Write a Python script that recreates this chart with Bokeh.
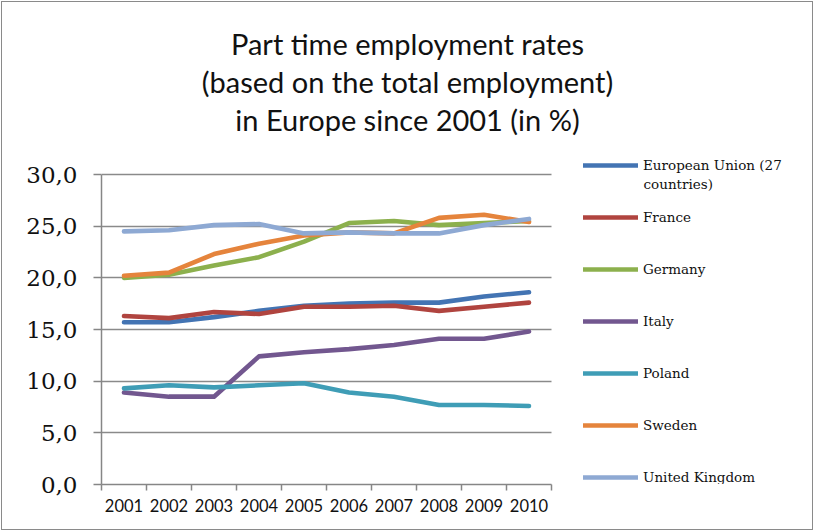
from bokeh.plotting import figure
from bokeh.models import FixedTicker, Legend, LegendItem, Range1d, Label
from bokeh.embed import file_html
from bokeh.resources import INLINE

years = [2001, 2002, 2003, 2004, 2005, 2006, 2007, 2008, 2009, 2010]
eu = [15.7, 15.7, 16.2, 16.8, 17.3, 17.5, 17.6, 17.6, 18.2, 18.6]
france = [16.3, 16.1, 16.7, 16.5, 17.2, 17.2, 17.3, 16.8, 17.2, 17.6]
germany = [20.0, 20.3, 21.2, 22.0, 23.5, 25.3, 25.5, 25.1, 25.3, 25.5]
italy = [8.9, 8.5, 8.5, 12.4, 12.8, 13.1, 13.5, 14.1, 14.1, 14.8]
poland = [9.3, 9.6, 9.4, 9.6, 9.8, 8.9, 8.5, 7.7, 7.7, 7.6]
sweden = [20.2, 20.5, 22.3, 23.3, 24.1, 24.4, 24.3, 25.8, 26.1, 25.4]
uk = [24.5, 24.6, 25.1, 25.2, 24.3, 24.4, 24.3, 24.3, 25.1, 25.7]

series_names = ["European Union (27", "France", "Germany", "Italy", "Poland", "Sweden", "United Kingdom"]
name_continuation = "countries)"
series_values = [eu, france, germany, italy, poland, sweden, uk]
series_colors = ["#4374B3", "#B0443F", "#8CB04D", "#72578F", "#3F9DB6", "#E5843C", "#8EA9D3"]

y_ticks = [0, 5, 10, 15, 20, 25, 30]
y_tick_labels = ["0,0", "5,0", "10,0", "15,0", "20,0", "25,0", "30,0"]
title_lines = ["Part time employment rates", "(based on the total employment)", "in Europe since 2001 (in %)"]

# ---- layout constants (pixels) ----
W, H = 814, 531
FL, FB = 101, 484            # frame left / bottom (frame extends to top and right edge)
PX_YEAR = 45.0               # pixels per category
PX_UNIT = (484 - 174) / 30.0  # pixels per percent
x0 = years[0] - 0.5
x1 = x0 + (W - FL) / PX_YEAR
y1 = FB / PX_UNIT

p = figure(width=W, height=H, output_backend="svg", toolbar_location=None,
           x_range=Range1d(x0, x1), y_range=Range1d(0, y1),
           min_border=0, min_border_left=FL, min_border_right=0, min_border_top=0,
           min_border_bottom=H - FB)
p.title.visible = False
p.title.text_font_size = "0px"
p.title.standoff = 0
p.outline_line_color = None
p.background_fill_color = None
p.border_fill_color = None
p.styles = {"outline": "1.5px solid #8a8a8a", "outline-offset": "-2px"}

renderers = []
for vals, col in zip(series_values, series_colors):
    r = p.line(years, vals, line_color=col, line_width=4.6, line_cap="round", line_join="round")
    renderers.append(r)

x_bounds = (years[0] - 0.5, years[-1] + 0.5)

# x axis
p.xaxis.bounds = x_bounds
p.xaxis.ticker = FixedTicker(ticks=years, minor_ticks=[y - 0.5 for y in years] + [years[-1] + 0.5])
p.xaxis.major_label_overrides = {y: str(y) for y in years}
p.xaxis.major_tick_line_color = None
p.xaxis.major_tick_out = 0
p.xaxis.major_tick_in = 0
p.xaxis.minor_tick_out = 6
p.xaxis.minor_tick_in = 0
p.xaxis.minor_tick_line_color = "#868686"
p.xaxis.minor_tick_line_width = 1.5
p.xaxis.axis_line_color = "#868686"
p.xaxis.axis_line_width = 1.5
p.xaxis.major_label_text_font = "Lato"
p.xaxis.major_label_text_font_size = "16.5px"
p.xaxis.major_label_text_color = "#111111"
p.xaxis.major_label_standoff = 8

# y axis
p.yaxis.bounds = (y_ticks[0], y_ticks[-1])
p.yaxis.ticker = FixedTicker(ticks=y_ticks)
p.yaxis.major_label_overrides = dict(zip(y_ticks, y_tick_labels))
p.yaxis.minor_tick_line_color = None
p.yaxis.major_tick_out = 8
p.yaxis.major_tick_in = 0
p.yaxis.major_tick_line_color = "#868686"
p.yaxis.major_tick_line_width = 1.5
p.yaxis.axis_line_color = "#868686"
p.yaxis.axis_line_width = 1.5
p.yaxis.major_label_text_font = "DejaVu Serif"
p.yaxis.major_label_text_font_size = "23px"
p.yaxis.major_label_text_color = "#111111"
p.yaxis.major_label_standoff = 16

p.xgrid.grid_line_color = None
p.ygrid.ticker = FixedTicker(ticks=y_ticks)
p.ygrid.cross_bounds = x_bounds
p.ygrid.grid_line_color = "#8a8a8a"
p.ygrid.grid_line_width = 1.5

# legend (inside the wide frame, to the right of the plotted area)
items = [LegendItem(label=n, renderers=[r]) for n, r in zip(series_names, renderers)]
legend = Legend(items=items, location=(583 - FL, -1), padding=0, margin=0,
                spacing=36, glyph_width=55, glyph_height=16, label_height=16,
                label_standoff=5, label_text_font="DejaVu Serif", label_text_font_size="13.5px",
                label_text_color="#111111", label_text_baseline="middle",
                border_line_color=None, background_fill_alpha=0)
p.add_layout(legend, "center")

p.add_layout(Label(x=643 - FL, y=FB - 183, x_units="screen", y_units="screen", text=name_continuation,
                   text_font="DejaVu Serif", text_font_size="13.5px", text_color="#111111",
                   text_baseline="middle", text_align="left"))

for i, t in enumerate(title_lines):
    p.add_layout(Label(x=407 - FL, y=FB - (43 + 38 * i), x_units="screen", y_units="screen", text=t,
                       text_font="Lato", text_font_size="29px", text_color="#111111",
                       text_baseline="middle", text_align="center"))

open("out.html", "w").write(file_html(p, INLINE))
